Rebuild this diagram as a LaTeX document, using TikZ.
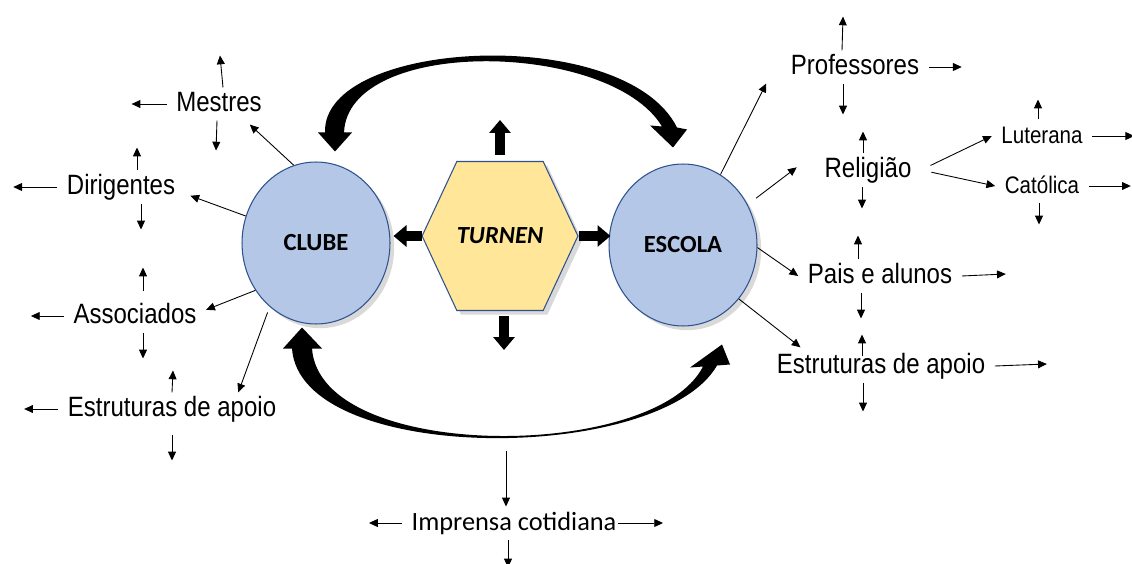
\documentclass[tikz,border=0pt]{standalone}
\usepackage{fontspec}
\setmainfont{Carlito}
\newfontfamily\lblfont[FakeStretch=0.86]{Liberation Sans}
\usepackage{xcolor}
\definecolor{circfill}{HTML}{B4C7E7}
\definecolor{circline}{HTML}{2F528F}
\definecolor{hexfill}{HTML}{FFE699}
\usetikzlibrary{shapes,arrows.meta,calc,shadows}

\begin{document}
\begin{tikzpicture}[
    x=0.02cm, y=-0.02cm,
    hub/.style={ellipse, draw=circline, line width=0.6pt, fill=circfill, minimum width=2.96cm, minimum height=3.24cm, inner sep=0pt, font=\bfseries\fontsize{14}{16}\selectfont, drop shadow={opacity=0.3}},
    core/.style={signal, signal to=west and east, signal pointer angle=130, draw=circline, line width=0.6pt, fill=hexfill, minimum width=2.96cm, minimum height=2.98cm, inner sep=0pt, font=\bfseries\itshape\fontsize{14}{16}\selectfont, drop shadow={opacity=0.3}},
    lbl/.style={font=\lblfont\fontsize{15.9}{18}\selectfont, inner sep=0.5pt, outer xsep=5pt, outer ysep=1.5pt, text height=11.5pt, text depth=3.3pt},
    small/.style={lbl, font=\lblfont\fontsize{13.6}{16}\selectfont},
    link/.style={-{Triangle[length=5pt,width=4.5pt]}, line width=0.5pt},
    stub/.style={link},
    blk/.style={line width=0.2cm, -{Triangle[width=0.42cm,length=0.26cm]}},
    bigarc/.style={fill=black}
]
\useasboundingbox (0,0) rectangle (1132,564);

\node[hub] (clube) at (316,243) {CLUBE};
\node[hub] (escola) at (683,245) {ESCOLA};
\node[core] (turnen) at (500,236) {TURNEN};

\node[lbl] (mestres) at (219,104) {Mestres};
\node[lbl] (dirigentes) at (121,187) {Dirigentes};
\node[lbl] (associados) at (135,316) {Associados};
\node[lbl] (apoioclube) at (172,409) {Estruturas de apoio};
\node[lbl] (professores) at (855,67) {Professores};
\node[lbl] (religiao) at (868,170) {Religião};
\node[small] (luterana) at (1042,136) {Luterana};
\node[small] (catolica) at (1042,186) {Católica};
\node[lbl] (pais) at (880,276) {Pais e alunos};
\node[lbl] (apoioescola) at (881,366) {Estruturas de apoio};
\node[lbl, font=\fontsize{15}{18}\selectfont] (imprensa) at (514,523) {Imprensa cotidiana};

\coordinate (topL) at ($(clube.north)+(19,-10)$);
\coordinate (topR) at ($(escola.north)+(-10,-16)$);
\coordinate (botL) at ($(clube.south)+(-14,3)$);
\coordinate (botR) at ($(escola.south)+(39,18)$);
\coordinate (pressin) at (506,451);

\fill[bigarc] ($(topL)+(-10,-19)$) .. controls +(-3,-94) and +(-52,-104) .. ($(topR)+(4,-20)$)
  -- ($(topR)+(14,-18)$) -- (topR) -- ($(topR)+(-23,-22)$) -- ($(topR)+(-11,-21)$)
  .. controls +(-52,-86) and +(4,-96) .. ($(topL)+(9,-19)$)
  -- ($(topL)+(17,-19)$) -- (topL) -- ($(topL)+(-17,-19)$) -- cycle;
\fill[bigarc] ($(botL)+(-10,21)$) .. controls +(8,117) and +(-57,99) .. ($(botR)+(-5,21)$)
  -- ($(botR)+(8,20)$) -- (botR) -- ($(botR)+(-32,23)$) -- ($(botR)+(-19,22)$)
  .. controls +(-48,95) and +(8,114) .. ($(botL)+(10,21)$)
  -- ($(botL)+(20,21)$) -- (botL) -- ($(botL)+(-19,21)$) -- cycle;

\draw[blk, shorten <=3.4pt] (turnen.north) -- ++(0,-41);
\draw[blk] (turnen.west) -- ++(-28,0);
\draw[blk] (turnen.east) -- ++(32,0);
\draw[blk, shorten <=3pt] ([xshift=0.08cm]turnen.south) -- ++(0,39);

\draw[link, shorten >=3.4pt] (clube.106) -- (mestres.-32);
\draw[link, shorten >=3.4pt] (clube.159) -- (dirigentes.-6);
\draw[link] (clube.218) -- (associados.5);
\draw[link, shorten <=3.4pt] (clube.234) -- (apoioclube.14);
\draw[link] (escola.62) -- ([xshift=-0.3cm]professores.south west);
\draw[link, shorten <=6pt, shorten >=13pt] (escola.32) -- (religiao.north west);
\draw[link] (escola.-2) -- (pais.west);
\draw[link, shorten >=2pt] (escola.-44.5) -- (apoioescola.168);
\draw[link, shorten <=6pt] (religiao.east) -- (luterana.west);
\draw[link, shorten <=6pt] (religiao.east) -- (catolica.west);

\draw[stub] (mestres.west) -- ++(-35,0);
\draw[stub] ([xshift=0.08cm]mestres.north) -- ++(-3,-32);
\draw[stub] ([xshift=-0.04cm]mestres.south) -- ++(-1,30);
\draw[stub] (dirigentes.west) -- ++(-44,0);
\draw[stub] ([xshift=0.32cm]dirigentes.north) -- ++(0,-23);
\draw[stub] ([xshift=0.4cm]dirigentes.south) -- ++(0,26);
\draw[stub] (associados.west) -- ++(-33,0);
\draw[stub] ([xshift=0.16cm,yshift=0.16cm]associados.north) -- ++(0,-24);
\draw[stub] ([xshift=0.16cm]associados.south) -- ++(0,26);
\draw[stub] (apoioclube.west) -- ++(-34,0);
\draw[stub] (apoioclube.north) -- ++(1,-22);
\draw[stub] ([yshift=-0.18cm]apoioclube.south) -- ++(0,26);
\draw[stub] (professores.east) -- ++(33,0);
\draw[stub] ([xshift=-0.26cm]professores.north) -- ++(1,-34);
\draw[stub] ([xshift=-0.24cm]professores.south) -- ++(0,31);
\draw[stub] ([xshift=-0.1cm]religiao.north) -- ++(0,-22);
\draw[stub] ([xshift=-0.12cm]religiao.south) -- ++(0,22);
\draw[stub] (luterana.east) -- ++(42,0);
\draw[stub] ([xshift=-0.08cm]luterana.north) -- ++(0,-20);
\draw[stub] (catolica.east) -- ++(42,0);
\draw[stub] ([xshift=-0.06cm]catolica.south) -- ++(0,22);
\draw[stub] (pais.east) -- ++(44,-2);
\draw[stub] ([xshift=-0.44cm]pais.north) -- ++(0,-24);
\draw[stub] ([xshift=-0.38cm]pais.south) -- ++(0,26);
\draw[stub] (apoioescola.east) -- ++(52,-2);
\draw[stub] ([xshift=-0.38cm,yshift=-0.14cm]apoioescola.north) -- ++(0,-22);
\draw[stub] ([xshift=-0.36cm]apoioescola.south) -- ++(0,29);
\draw[stub] (imprensa.west) -- ++(-33,0);
\draw[stub] ([xshift=-0.16cm]imprensa.east) -- ++(45,0);
\draw[stub] (pressin) -- (pressin |- imprensa.north);
\draw[stub] ([xshift=-0.12cm]imprensa.south) -- ++(0,28);

\end{tikzpicture}
\end{document}
